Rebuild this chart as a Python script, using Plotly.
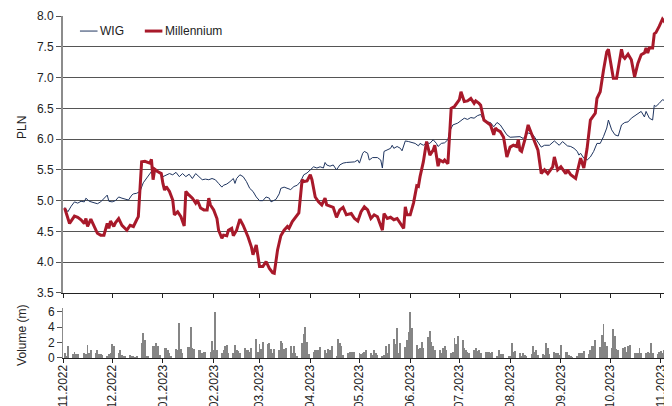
import pandas as pd
import plotly.graph_objects as go

# ---------------- data ----------------
mil_dates = [
    "2022-11-02","2022-11-05","2022-11-08","2022-11-10","2022-11-12","2022-11-14","2022-11-15","2022-11-16",
    "2022-11-18","2022-11-20","2022-11-22","2022-11-24","2022-11-26","2022-11-28","2022-11-29","2022-11-30",
    "2022-12-02","2022-12-03","2022-12-05","2022-12-07","2022-12-10","2022-12-12","2022-12-14","2022-12-16",
    "2022-12-17","2022-12-19","2022-12-21","2022-12-24","2022-12-25","2022-12-26","2022-12-27","2022-12-29",
    "2022-12-31","2023-01-01","2023-01-02","2023-01-03","2023-01-05","2023-01-07","2023-01-08","2023-01-10",
    "2023-01-12","2023-01-14","2023-01-15","2023-01-17","2023-01-19","2023-01-21","2023-01-22","2023-01-24",
    "2023-01-26","2023-01-28","2023-01-29","2023-01-30","2023-02-01","2023-02-03","2023-02-04","2023-02-06",
    "2023-02-07","2023-02-09","2023-02-10","2023-02-12","2023-02-13","2023-02-15","2023-02-17","2023-02-19",
    "2023-02-22","2023-02-24","2023-02-25","2023-02-27","2023-02-28","2023-03-01","2023-03-03","2023-03-05",
    "2023-03-07","2023-03-09","2023-03-10","2023-03-12","2023-03-14","2023-03-16","2023-03-18","2023-03-19",
    "2023-03-21","2023-03-23","2023-03-25","2023-03-27","2023-03-28","2023-03-30","2023-04-01","2023-04-02",
    "2023-04-04","2023-04-06","2023-04-08","2023-04-10","2023-04-11","2023-04-13","2023-04-15","2023-04-17",
    "2023-04-19","2023-04-21","2023-04-23","2023-04-26","2023-04-28","2023-04-30","2023-05-02","2023-05-04",
    "2023-05-06","2023-05-08","2023-05-10","2023-05-12","2023-05-14","2023-05-15","2023-05-16","2023-05-18",
    "2023-05-20","2023-05-22","2023-05-24","2023-05-26","2023-05-28","2023-05-29","2023-05-30","2023-06-01",
    "2023-06-03","2023-06-05","2023-06-06","2023-06-07","2023-06-09","2023-06-11","2023-06-13","2023-06-15",
    "2023-06-16","2023-06-18","2023-06-19","2023-06-21","2023-06-22","2023-06-24","2023-06-25","2023-06-26",
    "2023-06-28","2023-07-01","2023-07-02","2023-07-04","2023-07-06","2023-07-08","2023-07-10","2023-07-11",
    "2023-07-13","2023-07-14","2023-07-16","2023-07-18","2023-07-20","2023-07-22","2023-07-23","2023-07-24",
    "2023-07-26","2023-07-28","2023-07-30","2023-08-01","2023-08-03","2023-08-05","2023-08-06","2023-08-07",
    "2023-08-08","2023-08-10","2023-08-12","2023-08-14","2023-08-16","2023-08-18","2023-08-20","2023-08-22",
    "2023-08-24","2023-08-27","2023-08-28","2023-08-30","2023-09-01","2023-09-04","2023-09-05","2023-09-07",
    "2023-09-10","2023-09-12","2023-09-13","2023-09-15","2023-09-17","2023-09-19","2023-09-22","2023-09-23",
    "2023-09-25","2023-09-27","2023-09-29","2023-09-30","2023-10-02","2023-10-03","2023-10-05","2023-10-07",
    "2023-10-08","2023-10-09","2023-10-10","2023-10-12","2023-10-14","2023-10-16","2023-10-18","2023-10-20",
    "2023-10-22","2023-10-23","2023-10-24","2023-10-25","2023-10-27","2023-10-28","2023-10-29","2023-10-31",
    "2023-11-02","2023-11-04","2023-11-06",
]
mil_values = [
    4.88,4.63,4.75,4.73,4.69,4.63,4.71,4.58,
    4.70,4.58,4.47,4.44,4.44,4.63,4.55,4.67,
    4.58,4.64,4.71,4.60,4.52,4.60,4.58,4.69,
    4.74,5.63,5.64,5.61,5.67,5.34,5.51,5.47,
    5.44,5.28,5.17,5.23,5.15,5.01,4.77,4.82,
    4.74,4.59,5.15,5.09,5.04,4.96,5.01,4.88,
    4.85,4.85,5.04,4.93,4.85,4.71,4.52,4.39,
    4.44,4.43,4.52,4.55,4.43,4.52,4.70,4.60,
    4.41,4.25,4.12,4.28,4.06,3.93,3.93,4.01,
    3.90,3.83,3.82,4.20,4.43,4.52,4.58,4.55,
    4.66,4.73,4.80,5.34,5.31,5.32,5.42,5.34,
    5.06,4.98,4.93,5.04,4.93,4.91,4.89,4.73,
    4.85,4.89,4.77,4.79,4.71,4.67,4.82,4.90,
    4.85,4.71,4.77,4.74,4.58,4.52,4.79,4.71,
    4.73,4.69,4.71,4.63,4.55,4.90,4.77,4.77,
    4.96,5.24,5.23,5.39,5.63,5.96,5.74,5.82,
    5.90,5.56,5.66,5.63,5.66,5.60,6.15,6.50,
    6.53,6.64,6.77,6.61,6.62,6.66,6.58,6.62,
    6.58,6.55,6.31,6.27,6.23,6.07,6.18,6.15,
    6.12,6.03,5.71,5.87,5.90,5.88,5.99,5.82,
    5.80,5.99,6.23,6.09,5.96,5.82,5.44,5.50,
    5.44,5.55,5.71,5.50,5.55,5.44,5.50,5.42,
    5.36,5.55,5.69,5.53,5.85,6.31,6.42,6.66,
    6.77,7.12,7.42,7.46,7.15,6.99,6.99,7.29,
    7.46,7.34,7.31,7.38,7.29,7.01,7.23,7.37,
    7.40,7.48,7.40,7.48,7.48,7.71,7.73,7.83,
    7.95,7.88,7.68,
]

wig_dates = [
    "2022-11-02","2022-11-04","2022-11-06","2022-11-08","2022-11-10","2022-11-12","2022-11-14","2022-11-15",
    "2022-11-17","2022-11-20","2022-11-22","2022-11-24","2022-11-26","2022-11-28","2022-11-29","2022-12-01",
    "2022-12-03","2022-12-05","2022-12-07","2022-12-09","2022-12-11","2022-12-13","2022-12-14","2022-12-16",
    "2022-12-18","2022-12-20","2022-12-22","2022-12-24","2022-12-26","2022-12-28","2022-12-30","2023-01-01",
    "2023-01-03","2023-01-05","2023-01-07","2023-01-09","2023-01-11","2023-01-13","2023-01-15","2023-01-17",
    "2023-01-19","2023-01-21","2023-01-23","2023-01-25","2023-01-27","2023-01-29","2023-01-31","2023-02-02",
    "2023-02-04","2023-02-06","2023-02-07","2023-02-09","2023-02-11","2023-02-13","2023-02-14","2023-02-15",
    "2023-02-17","2023-02-19","2023-02-21","2023-02-23","2023-02-25","2023-02-27","2023-03-01","2023-03-03",
    "2023-03-05","2023-03-07","2023-03-08","2023-03-11","2023-03-13","2023-03-14","2023-03-16","2023-03-18",
    "2023-03-20","2023-03-22","2023-03-24","2023-03-26","2023-03-28","2023-03-30","2023-04-01","2023-04-03",
    "2023-04-05","2023-04-07","2023-04-09","2023-04-10","2023-04-11","2023-04-13","2023-04-15","2023-04-17",
    "2023-04-19","2023-04-21","2023-04-23","2023-04-26","2023-04-28","2023-04-30","2023-05-01","2023-05-03",
    "2023-05-04","2023-05-06","2023-05-07","2023-05-09","2023-05-12","2023-05-14","2023-05-15","2023-05-16",
    "2023-05-18","2023-05-20","2023-05-21","2023-05-22","2023-05-24","2023-05-26","2023-05-27","2023-05-29",
    "2023-05-31","2023-06-02","2023-06-04","2023-06-06","2023-06-07","2023-06-09","2023-06-11","2023-06-13",
    "2023-06-15","2023-06-17","2023-06-18","2023-06-20","2023-06-22","2023-06-24","2023-06-25","2023-06-27",
    "2023-06-30","2023-07-02","2023-07-04","2023-07-06","2023-07-08","2023-07-10","2023-07-12","2023-07-14",
    "2023-07-15","2023-07-17","2023-07-20","2023-07-22","2023-07-24","2023-07-26","2023-07-28","2023-07-30",
    "2023-08-01","2023-08-04","2023-08-07","2023-08-09","2023-08-12","2023-08-15","2023-08-18","2023-08-20",
    "2023-08-22","2023-08-25","2023-08-28","2023-08-31","2023-09-02","2023-09-05","2023-09-07","2023-09-09",
    "2023-09-11","2023-09-12","2023-09-13","2023-09-15","2023-09-17","2023-09-19","2023-09-21","2023-09-23",
    "2023-09-25","2023-09-27","2023-09-29","2023-09-30","2023-10-02","2023-10-04","2023-10-06","2023-10-08",
    "2023-10-10","2023-10-12","2023-10-14","2023-10-16","2023-10-18","2023-10-20","2023-10-22","2023-10-23",
    "2023-10-25","2023-10-27","2023-10-28","2023-10-29","2023-10-31","2023-11-02","2023-11-04","2023-11-06",
]
wig_values = [
    4.89,4.82,4.91,4.98,4.96,4.99,4.98,5.04,
    4.99,4.97,4.95,4.98,5.04,5.09,4.99,4.98,
    5.00,5.06,5.04,5.02,5.01,5.09,5.11,5.12,
    5.15,5.29,5.36,5.45,5.51,5.47,5.45,5.39,
    5.42,5.44,5.42,5.46,5.39,5.44,5.39,5.43,
    5.36,5.44,5.39,5.34,5.35,5.34,5.36,5.34,
    5.28,5.22,5.25,5.27,5.31,5.36,5.28,5.36,
    5.42,5.39,5.31,5.20,5.15,5.06,5.00,5.00,
    5.06,5.04,4.98,5.02,5.11,5.20,5.22,5.20,
    5.18,5.23,5.25,5.31,5.42,5.45,5.50,5.55,
    5.53,5.55,5.53,5.62,5.58,5.56,5.58,5.50,
    5.58,5.61,5.62,5.63,5.63,5.66,5.61,5.77,
    5.80,5.77,5.66,5.70,5.70,5.66,5.53,5.80,
    5.82,5.85,5.90,5.85,5.88,5.85,5.81,5.97,
    5.96,5.94,5.93,5.89,5.93,5.90,5.94,5.93,
    5.99,5.93,5.88,5.93,5.94,5.99,6.12,6.23,
    6.26,6.30,6.34,6.32,6.35,6.34,6.38,6.40,
    6.35,6.28,6.27,6.20,6.27,6.23,6.15,6.07,
    6.03,6.03,6.04,6.01,6.10,6.07,5.96,5.87,
    5.90,5.90,5.97,5.90,5.96,5.89,5.88,5.85,
    5.80,5.74,5.77,5.69,5.66,5.71,5.80,5.93,
    5.93,6.04,6.18,6.31,6.15,6.07,6.05,6.23,
    6.27,6.28,6.34,6.38,6.42,6.45,6.36,6.45,
    6.34,6.31,6.55,6.53,6.58,6.64,6.62,6.59,
]

# daily volume (m shares), one value per weekday of each month
vol_nov22 = [0.7,0.3,1.6, 0.5,0.8,0.5,0.5,0.0, 0.6,0.5,1.7,0.7,1.0, 0.6,1.0,0.5,0.5,0.4, 0.3,0.5,0.7]
vol_dec22 = [1.8,1.5, 0.6,1.0,0.4,0.3,0.2, 0.4,0.3,0.2,0.1,0.3, 1.9,3.3,2.4,0.3,0.2, 1.6,1.5,2.0,1.5,0.4]
vol_jan23 = [1.3,1.3,1.0,0.7,0.3, 1.2,1.0,4.6,1.2,0.7, 1.4,1.4,4.0,1.3,1.2, 1.1,1.0,0.6,0.8,0.8, 0.8,2.2]
vol_feb23 = [1.1,6.0,1.1, 0.7,1.1,1.6,1.7,0.6, 0.6,1.7,1.0,0.9,0.6, 1.3,1.1,1.0,0.8,1.3, 2.5,0.8]
vol_mar23 = [1.8,1.2,2.1, 1.8,1.9,1.2,0.6,1.2, 1.0,2.2,2.0,1.2,1.3, 1.5,0.7,1.6,0.6,0.3, 1.9,3.1,4.0,2.1,0.5]
vol_apr23 = [0.8,1.1,1.0,1.1,1.4, 1.1,0.7,1.2,1.1,1.5, 0.3,2.5,1.9,1.6,0.4, 0.7,0.8,0.8,0.8,0.8]
vol_may23 = [0.6,0.5,0.7,0.8,1.0, 0.7,0.4,1.0,0.7,0.4, 0.2,0.4,1.6,0.6,1.8, 2.5,1.8,3.9,0.6,1.9, 1.4,2.3,3.4]
vol_jun23 = [6.0,3.9, 1.7,1.2,1.3,2.1,1.3, 2.7,3.5,2.1,1.6,1.0, 1.0,0.6,1.3,1.6,1.0, 0.6,0.8,2.6,1.8,2.8]
vol_jul23 = [2.3,1.3,1.0,0.8,0.7, 1.0,1.3,0.9,1.1,0.7, 0.8,0.8,0.8,0.7,0.8, 0.3,1.0,0.5,0.5,0.5, 0.3]
vol_aug23 = [0.2,2.0,0.8,0.9, 0.7,0.3,0.6,0.4,0.2, 0.5,1.5,0.8,1.1,0.4, 0.5,0.4,2.0,1.3,0.5, 0.8,0.6,0.6,0.4]
vol_sep23 = [1.7, 0.8,0.8,0.4,0.2,0.1, 0.3,0.6,0.6,0.7,0.9, 0.5,1.1,1.5,1.5,2.4, 1.4,3.0,4.4,2.1,1.5]
vol_oct23 = [1.3,3.8,2.8,1.2,1.1, 1.3,1.4,0.8,1.5,1.7, 0.6,0.7,0.6,1.3,0.7, 0.7,0.8,0.7,2.0,0.6, 0.5,0.8]
vol_nov23 = [0.9,0.7,1.0,1.5]

vol_months = [
    ("2022-11-02", "2022-11-30", vol_nov22), ("2022-12-01", "2022-12-31", vol_dec22),
    ("2023-01-01", "2023-01-31", vol_jan23), ("2023-02-01", "2023-02-28", vol_feb23),
    ("2023-03-01", "2023-03-31", vol_mar23), ("2023-04-01", "2023-04-30", vol_apr23),
    ("2023-05-01", "2023-05-31", vol_may23), ("2023-06-01", "2023-06-30", vol_jun23),
    ("2023-07-01", "2023-07-31", vol_jul23), ("2023-08-01", "2023-08-31", vol_aug23),
    ("2023-09-01", "2023-09-30", vol_sep23), ("2023-10-01", "2023-10-31", vol_oct23),
    ("2023-11-01", "2023-11-06", vol_nov23),
]
vol_dates, vol_values = [], []
for start, end, vals in vol_months:
    days = pd.bdate_range(start, end)
    for d, v in zip(days, vals):
        vol_dates.append(d)
        vol_values.append(v)

# ---------------- figure ----------------
FONT = "Liberation Sans, Arial, sans-serif"
RED = "#a8192a"
NAVY = "#1f3560"
X_RANGE = ["2022-11-01", "2023-11-06"]

fig = go.Figure()
fig.add_trace(go.Scatter(x=wig_dates, y=wig_values, name="WIG", mode="lines",
                         line=dict(color=NAVY, width=1), xaxis="x", yaxis="y"))
fig.add_trace(go.Scatter(x=mil_dates, y=mil_values, name="Millennium", mode="lines",
                         line=dict(color=RED, width=3), xaxis="x", yaxis="y"))
fig.add_trace(go.Bar(x=vol_dates, y=vol_values, name="Volume", xaxis="x2", yaxis="y2",
                     marker=dict(color="#858585", line=dict(width=0)),
                     width=0.5 * 86400000))

axis_font = dict(family=FONT, size=12, color="#222222")
# the page adds an 8px body margin, so the figure is 8px smaller than the window
fig.update_layout(
    width=664, height=398,
    margin=dict(l=55, r=3, t=8, b=48, autoexpand=False),
    paper_bgcolor="white", plot_bgcolor="white",
    showlegend=False,
    bargap=0,
    font=axis_font,
    xaxis=dict(domain=[0, 1], anchor="y", type="date", range=X_RANGE, automargin=False,
               tick0="2022-11-01", dtick="M1", ticks="outside", ticklen=4,
               tickcolor="#222222", showticklabels=False, showgrid=False,
               showline=True, linecolor="#222222", linewidth=1, zeroline=False),
    yaxis=dict(domain=[0.1901, 1], anchor="x", range=[3.5, 8.0], dtick=0.5, automargin=False,
               tickformat=".1f", ticks="outside", ticklen=5, tickcolor="#555555",
               showgrid=True, gridcolor="#555555", gridwidth=1,
               showline=True, linecolor="#8c8c8c", linewidth=2, zeroline=False,
               tickfont=axis_font),
    xaxis2=dict(domain=[0, 1], anchor="y2", type="date", range=X_RANGE, automargin=False,
                tick0="2022-11-01", dtick="M1", ticks="outside", ticklen=4,
                ticklabelstandoff=-3,
                tickcolor="#222222", tickformat="%m.%Y", tickangle=-90,
                showgrid=False, showline=True, linecolor="#222222", linewidth=1,
                zeroline=False, tickfont=axis_font),
    yaxis2=dict(domain=[0, 0.1462], anchor="x2", range=[0, 6.5], automargin=False,
                tickvals=[0, 2, 4, 6], ticks="outside", ticklen=5,
                tickcolor="#555555", showgrid=False, showline=True,
                linecolor="#8c8c8c", linewidth=1, zeroline=False, tickfont=axis_font),
)

# axis titles
fig.add_annotation(text="PLN", xref="paper", yref="paper", x=-0.068, y=0.675,
                   xanchor="center", yanchor="middle",
                   textangle=-90, showarrow=False, font=axis_font)
fig.add_annotation(text="Volume (m)", xref="paper", yref="paper", x=-0.068, y=0.067,
                   xanchor="center", yanchor="middle",
                   textangle=-90, showarrow=False, font=axis_font)

# legend (drawn inside the plot, top-left)
leg_y = 0.956
fig.add_shape(type="line", xref="paper", yref="paper", x0=0.028, x1=0.057, y0=leg_y, y1=leg_y,
              line=dict(color=NAVY, width=1))
fig.add_annotation(text="WIG", xref="paper", yref="paper", x=0.058, y=leg_y,
                   xanchor="left", yanchor="middle", showarrow=False, font=axis_font)
fig.add_shape(type="line", xref="paper", yref="paper", x0=0.135, x1=0.164, y0=leg_y, y1=leg_y,
              line=dict(color=RED, width=3))
fig.add_annotation(text="Millennium", xref="paper", yref="paper", x=0.165, y=leg_y,
                   xanchor="left", yanchor="middle", showarrow=False, font=axis_font)

fig.write_html("out.html")
